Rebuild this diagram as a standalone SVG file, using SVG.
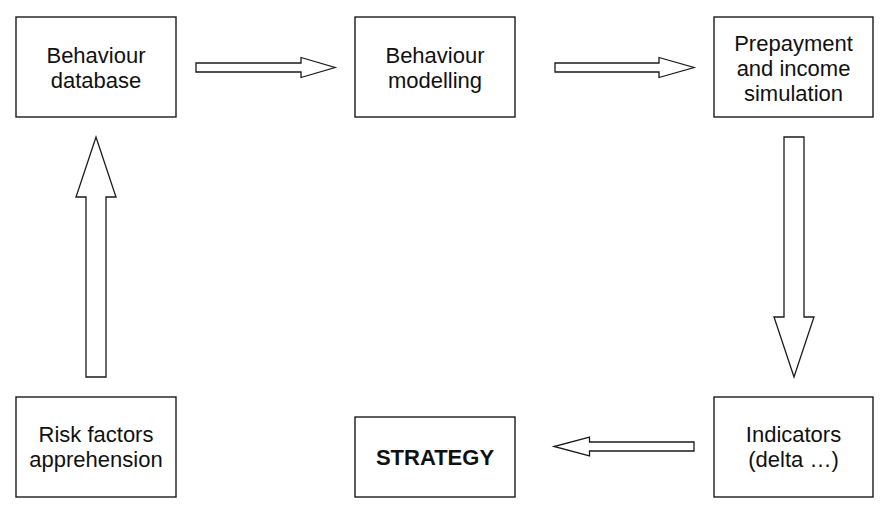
<svg xmlns="http://www.w3.org/2000/svg" width="891" height="508" viewBox="0 0 891 508">
<style>
.box{fill:#fff;stroke:#1a1a1a;stroke-width:1.4}
.arr{fill:#fff;stroke:#1a1a1a;stroke-width:1.3;stroke-linejoin:miter}
text{font-family:"Liberation Sans",Arial,Helvetica,sans-serif;font-size:22px;fill:#111;text-anchor:middle}
.b{font-weight:bold;font-size:22px}
</style>
<rect width="891" height="508" fill="#fff"/>
<g id="n-behaviour-database">
<rect class="box" x="16" y="17" width="160" height="100"/>
<text x="96" y="62.5">Behaviour</text>
<text x="96" y="87.5">database</text>
</g>
<g id="n-behaviour-modelling">
<rect class="box" x="355" y="17" width="160" height="100"/>
<text x="435" y="62.5">Behaviour</text>
<text x="435" y="87.5">modelling</text>
</g>
<g id="n-prepayment">
<rect class="box" x="714" y="17" width="159" height="100"/>
<text x="793.5" y="50.5">Prepayment</text>
<text x="793.5" y="75.5">and income</text>
<text x="793.5" y="100.5">simulation</text>
</g>
<g id="n-risk-factors">
<rect class="box" x="16" y="397" width="160" height="100"/>
<text x="96" y="442">Risk factors</text>
<text x="96" y="467">apprehension</text>
</g>
<g id="n-strategy">
<rect class="box" x="355" y="417" width="160" height="80"/>
<text class="b" x="435" y="464.5">STRATEGY</text>
</g>
<g id="n-indicators">
<rect class="box" x="714" y="397" width="159" height="100"/>
<text x="793.5" y="442">Indicators</text>
<text x="793.5" y="467">(delta …)</text>
</g>
<g id="connectors">
<polygon class="arr" points="196,63 301,63 301,57.5 335,67.5 301,77.5 301,72 196,72"/>
<polygon class="arr" points="555,63 659,63 659,57.5 694,67.5 659,77.5 659,72 555,72"/>
<polygon class="arr" points="784,137 804,137 804,317 814,317 794,377 774,317 784,317"/>
<polygon class="arr" points="694,442 589.5,442 589.5,437 554,446.5 589.5,456 589.5,451 694,451"/>
<polygon class="arr" points="86,377 86,197 76,197 96,137 116,197 106,197 106,377"/>
</g>
</svg>
